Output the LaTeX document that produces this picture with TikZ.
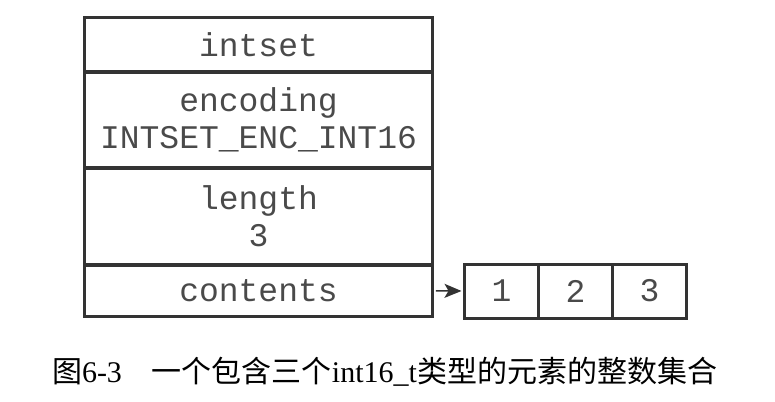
\documentclass[tikz,border=0pt]{standalone}
\usepackage{fontspec}
\setmainfont{Liberation Serif}
\setmonofont{Liberation Mono}
\newfontfamily\cjk{Noto Sans CJK SC}
\usepackage{xcolor}
\usetikzlibrary{arrows.meta,positioning}
\definecolor{boxline}{HTML}{333333}
\definecolor{boxtext}{HTML}{4A4A4A}

\begin{document}
\begin{tikzpicture}[x=1pt,y=-1pt,
    field/.style={draw=boxline, line width=3.5pt, rectangle, minimum width=348pt,
      align=center, inner sep=0pt, text=boxtext,
      font=\ttfamily\fontsize{33}{37}\selectfont},
    cell/.style={draw=boxline, line width=3pt, rectangle, minimum width=74pt,
      minimum height=54pt, inner sep=0pt, text=boxtext,
      font=\ttfamily\fontsize{33}{37}\selectfont}]
  \useasboundingbox (0,0) rectangle (775,401);

  \node[field, minimum height=54.5pt] (intset) at (258.5,44.75) {intset};
  \node[field, minimum height=96pt] (encoding) at (258.5,120) {encoding\\INTSET\_ENC\_INT16};
  \node[field, minimum height=97pt] (length) at (258.5,216.5) {length\\3};
  \node[field, minimum height=51.5pt] (contents) at (258.5,290.75) {contents};

  \node[cell] (one) at (501.5,291) {1};
  \node[cell] (two) at (575.5,291) {2};
  \node[cell] (three) at (649.5,291) {3};

  \draw[boxline, line width=1.5pt, shorten >=1.5pt, shorten <=1.5pt,
      -{Stealth[length=17pt,width=14pt,inset=4pt]}]
    (contents.east) -- (one.west);

  \node[font=\fontsize{30}{33}\selectfont] (caption) at (384.5,372)
    {{\cjk 图}6-3\hspace{30pt}{\cjk 一个包含三个}int16\_t{\cjk 类型的元素的整数集合}};
\end{tikzpicture}
\end{document}
